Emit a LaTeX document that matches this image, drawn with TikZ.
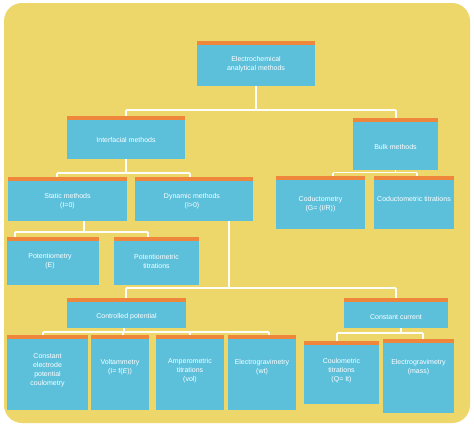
\documentclass[tikz,border=0pt]{standalone}
\usepackage{fontspec}
\setmainfont{Liberation Sans}
\definecolor{bgyellow}{RGB}{238,215,106}
\definecolor{boxblue}{RGB}{92,192,219}
\definecolor{boxorange}{RGB}{238,135,60}
\begin{document}
\begin{tikzpicture}[x=1pt,y=-1pt,
  box/.style={draw=none,fill=boxblue,inner sep=0pt,outer sep=0pt,
    path picture={\fill[boxorange] (path picture bounding box.north west) rectangle ([yshift=-4pt]path picture bounding box.north east);}},
  txt/.style={text=white,align=center,inner sep=0pt,font=\fontsize{7}{9}\selectfont},
  conn/.style={draw=white!95!bgyellow,line width=1.1pt}]
\useasboundingbox (0,0) rectangle (474,426);
\fill[white] (0,0) rectangle (474,426);
\fill[bgyellow,rounded corners=18pt] (4,3) rectangle (470,423);
% boxes
\node[box,minimum width=118pt,minimum height=45pt] (btop) at (256,63.5) {};
\node[box,minimum width=118pt,minimum height=43pt] (binter) at (126,137.5) {};
\node[box,minimum width=85pt,minimum height=52pt] (bbulk) at (395.5,144) {};
\node[box,minimum width=119pt,minimum height=44pt] (bstatic) at (67.5,199) {};
\node[box,minimum width=118pt,minimum height=44pt] (bdyn) at (194,199) {};
\node[box,minimum width=89pt,minimum height=53pt] (bcond) at (320.5,202.5) {};
\node[box,minimum width=80pt,minimum height=53pt] (bcondt) at (414,202.5) {};
\node[box,minimum width=92pt,minimum height=48pt] (bpot) at (53,261) {};
\node[box,minimum width=85pt,minimum height=48pt] (bpott) at (156.5,261) {};
\node[box,minimum width=119pt,minimum height=30pt] (bctrl) at (126.5,313) {};
\node[box,minimum width=104pt,minimum height=30pt] (bconst) at (396,313) {};
\node[box,minimum width=81pt,minimum height=75pt] (bcepc) at (47.5,372.5) {};
\node[box,minimum width=58pt,minimum height=75pt] (bvolt) at (120,372.5) {};
\node[box,minimum width=68pt,minimum height=75pt] (bamp) at (190,372.5) {};
\node[box,minimum width=68pt,minimum height=75pt] (belec) at (262,372.5) {};
\node[box,minimum width=75pt,minimum height=63pt] (bcoul) at (341.5,372.5) {};
\node[box,minimum width=71pt,minimum height=74pt] (belecm) at (418.5,376) {};
% texts
\node[txt] (ttop) at (256,64.5) {Electrochemical\\analytical methods};
\node[txt] (tinter) at (126,139.5) {Interfacial methods};
\node[txt] (tbulk) at (395.5,147) {Bulk methods};
\node[txt] (tstatic) at (67.5,201.5) {Static methods\\(I=0)};
\node[txt] (tdyn) at (192,201.5) {Dynamic methods\\(I\textgreater0)};
\node[txt] (tcond) at (320.5,204) {Coductometry\\(G= (I/R))};
\node[txt] (tcondt) at (414,199) {Coductometric titrations};
\node[txt] (tpot) at (50,261.5) {Potentiometry\\(E)};
\node[txt] (tpott) at (156.5,261.5) {Potentiometric\\titrations};
\node[txt] (tctrl) at (126.5,317) {Controlled potential};
\node[txt] (tconst) at (396,317) {Constant current};
\node[txt] (tcepc) at (47.5,370) {Constant\\electrode\\potential\\coulometry};
\node[txt] (tvolt) at (120,367.5) {Voltammetry\\(I= f(\textit{E}))};
\node[txt] (tamp) at (190,370.5) {Amperometric\\titrations\\(vol)};
\node[txt] (telec) at (262,367.5) {Electrogravimetry\\(wt)};
\node[txt] (tcoul) at (341.5,371) {Coulometric\\titrations\\(Q= It)};
\node[txt] (telecm) at (418.5,367.5) {Electrogravimetry\\(mass)};
% bus coordinates
\coordinate (j1a) at (126,110); \coordinate (j1b) at (396,110);
\coordinate (j2a) at (57,173); \coordinate (j2b) at (190,173);
\coordinate (j3a) at (333,172.5); \coordinate (j3b) at (417,172.5);
\coordinate (j4a) at (15,232); \coordinate (j4b) at (148,232);
\coordinate (j5a) at (126,288); \coordinate (j5b) at (396,288);
\coordinate (j6a) at (43,332); \coordinate (j6b) at (123,332); \coordinate (j6c) at (190,332); \coordinate (j6d) at (269,332);
\coordinate (j7a) at (337,333); \coordinate (j7b) at (423,333);
% connectors
\draw[conn] (btop.south) -- (btop.south |- j1a);
\draw[conn] (j1a) -- (j1b);
\draw[conn] (j1a) -- (j1a |- binter.north);
\draw[conn] (j1b) -- (j1b |- bbulk.north);
\draw[conn] (binter.south) -- (binter.south |- j2a);
\draw[conn] (j2a) -- (j2b);
\draw[conn] (j2a) -- (j2a |- bstatic.north);
\draw[conn] (j2b) -- (j2b |- bdyn.north);
\draw[conn] (bbulk.south) -- (bbulk.south |- j3a);
\draw[conn] (j3a) -- (j3b);
\draw[conn] (j3a) -- (j3a |- bcond.north);
\draw[conn] (j3b) -- (j3b |- bcondt.north);
\draw[conn] ([xshift=16.5pt]bstatic.south) -- ([xshift=16.5pt]bstatic.south |- j4a);
\draw[conn] (j4a) -- (j4b);
\draw[conn] (j4a) -- (j4a |- bpot.north);
\draw[conn] (j4b) -- (j4b |- bpott.north);
\draw[conn] ([xshift=35pt]bdyn.south) -- ([xshift=35pt]bdyn.south |- j5a);
\draw[conn] (j5a) -- (j5b);
\draw[conn] (j5a) -- (j5a |- bctrl.north);
\draw[conn] (j5b) -- (j5b |- bconst.north);
\draw[conn] ([xshift=-2.5pt]bctrl.south) -- ([xshift=-2.5pt]bctrl.south |- j6a);
\draw[conn] (j6a) -- (j6d);
\draw[conn] (j6a) -- (j6a |- bcepc.north);
\draw[conn] (j6b) -- (j6b |- bvolt.north);
\draw[conn] (j6c) -- (j6c |- bamp.north);
\draw[conn] (j6d) -- (j6d |- belec.north);
\draw[conn] ([xshift=5pt]bconst.south) -- ([xshift=5pt]bconst.south |- j7a);
\draw[conn] (j7a) -- (j7b);
\draw[conn] (j7a) -- (j7a |- bcoul.north);
\draw[conn] (j7b) -- (j7b |- belecm.north);
\end{tikzpicture}
\end{document}
